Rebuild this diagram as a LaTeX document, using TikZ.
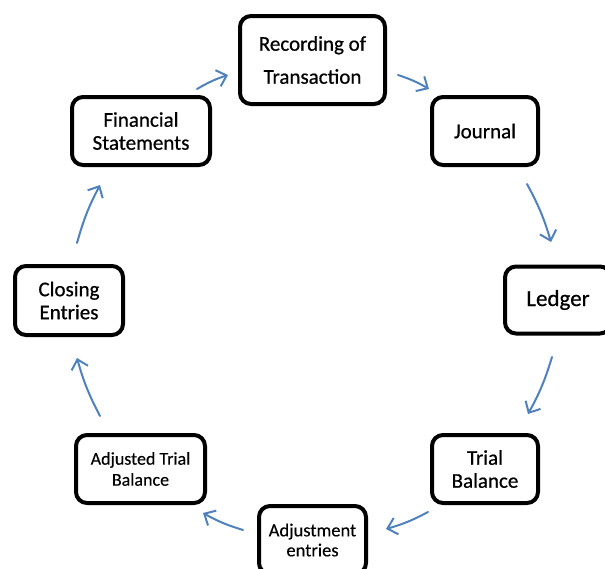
\documentclass[tikz,border=0pt]{standalone}
\usepackage{fontspec}
\setmainfont{Carlito}
\newfontfamily\darkfont{Carlito}[FakeBold=0.6]
\newfontfamily\lightfont{Carlito}[FakeBold=0.2]
\usetikzlibrary{arrows.meta}
\definecolor{arrowblue}{HTML}{4F81BD}
\tikzset{
  stage/.style={draw=black, line width=4pt, rounded corners=11pt, fill=white,
    align=center, inner sep=0pt, font=\darkfont\fontsize{21}{23}\selectfont},
  flow/.style={draw=arrowblue, line width=2pt, line cap=round,
    -{Straight Barb[length=9pt,width=17pt,line width=2pt]}, bend left=6}
}
\begin{document}
\begin{tikzpicture}[x=1pt,y=-1pt]
\useasboundingbox (0,0) rectangle (605,568);
\node[stage, minimum width=145pt, minimum height=88pt,
      font=\darkfont\fontsize{21}{33}\selectfont] (rec) at (312.5,60) {Recording of\\Transaction};
\node[stage, minimum width=106pt, minimum height=68pt] (jou) at (485,131) {Journal};
\node[stage, minimum width=106pt, minimum height=67pt,
      font=\darkfont\fontsize{23}{25}\selectfont] (led) at (558,300) {Ledger};
\node[stage, minimum width=106pt, minimum height=68pt] (tri) at (485,469) {Trial\\Balance};
\node[stage, minimum width=107pt, minimum height=68pt,
      font=\lightfont\fontsize{18.5}{20}\selectfont] (adj) at (312.5,540) {Adjustment\\entries};
\node[stage, minimum width=129pt, minimum height=68pt,
      font=\lightfont\fontsize{18}{21}\selectfont] (atb) at (140.5,469) {Adjusted Trial\\Balance};
\node[stage, minimum width=108pt, minimum height=69pt] (clo) at (69,300.5) {Closing\\Entries};
\node[stage, minimum width=138pt, minimum height=68pt] (fin) at (141,131) {Financial\\Statements};
% connector end points
\coordinate (f1) at (197,89);  \coordinate (f2) at (228,75);
\coordinate (r1) at (398,75);  \coordinate (r2) at (429,89);
\coordinate (j1) at (527,184); \coordinate (j2) at (551,242);
\coordinate (l1) at (552,357); \coordinate (l2) at (528,414);
\coordinate (t1) at (428,512); \coordinate (t2) at (386,529);
\coordinate (a1) at (243,530); \coordinate (a2) at (203,513);
\coordinate (b1) at (100,416); \coordinate (b2) at (77,358);
\coordinate (c1) at (77,243);  \coordinate (c2) at (100,185);
\draw[flow] (f1) to (f2);
\draw[flow] (r1) to (r2);
\draw[flow] (j1) to (j2);
\draw[flow] (l1) to (l2);
\draw[flow] (t1) to (t2);
\draw[flow] (a1) to (a2);
\draw[flow] (b1) to (b2);
\draw[flow] (c1) to (c2);
\end{tikzpicture}
\end{document}
